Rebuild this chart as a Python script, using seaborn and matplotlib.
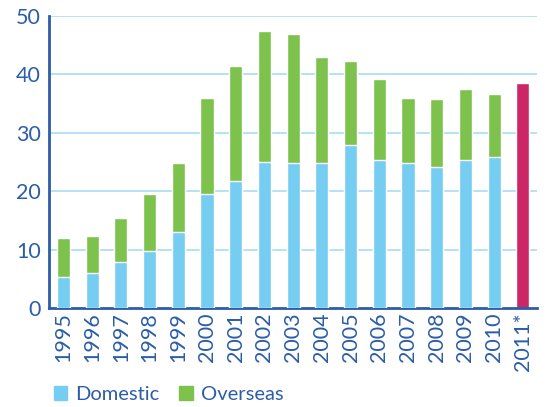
import matplotlib
matplotlib.use("Agg")
import matplotlib.pyplot as plt
from matplotlib.patches import Patch
import seaborn as sns
import pandas as pd

# data
years = ["1995", "1996", "1997", "1998", "1999", "2000", "2001", "2002", "2003",
         "2004", "2005", "2006", "2007", "2008", "2009", "2010", "2011*"]
domestic = [5.3, 6.0, 7.9, 9.7, 13.0, 19.6, 21.7, 25.0, 24.8,
            24.8, 27.9, 25.3, 24.8, 24.1, 25.3, 25.9, None]
total = [12.0, 12.3, 15.4, 19.5, 24.8, 36.0, 41.4, 47.4, 46.9,
         43.0, 42.3, 39.2, 36.0, 35.8, 37.5, 36.6, 38.5]

BLUE = "#75CDF2"
GREEN = "#7DC24D"
MAGENTA = "#CC2667"
TEXT = "#2B5DA8"
GRID = "#A9DDF2"

df = pd.DataFrame({"year": years, "domestic": domestic, "total": total})

sns.set_style("white")
plt.rcParams["font.family"] = ["Lato", "DejaVu Sans"]

fig = plt.figure(figsize=(5.51, 4.07), dpi=100)
ax = fig.add_axes([0.089, 0.243, 0.886, 0.718])

# total bars (overseas on top of domestic), last year in magenta
colors = [GREEN] * (len(years) - 1) + [MAGENTA]
sns.barplot(data=df, x="year", y="total", hue="year", palette=colors,
            width=0.46, legend=False, ax=ax, zorder=2, saturation=1)
sns.barplot(data=df, x="year", y="domestic", color=BLUE, width=0.46,
            ax=ax, zorder=3, saturation=1)

ax.set_xlim(-0.5, len(years) - 0.5)
ax.set_ylim(0, 50)
ax.set_yticks([0, 10, 20, 30, 40, 50])
for v in [10, 20, 30, 40, 50]:
    ax.axhline(v, color=GRID, lw=1.2, zorder=1)

ax.set_xlabel("")
ax.set_ylabel("")
ax.tick_params(axis="x", labelrotation=90, labelsize=15.5, colors=TEXT,
               length=0, pad=3)
ax.tick_params(axis="y", labelsize=15.5, colors=TEXT, length=4, width=1.5,
               direction="out", pad=2)
for lab in ax.get_xticklabels() + ax.get_yticklabels():
    lab.set_color(TEXT)

# tick marks between categories on the bottom spine
ax.set_xticks([i + 0.5 for i in range(-1, len(years))], minor=True)
ax.tick_params(axis="x", which="minor", length=5, width=1.2, color=TEXT)

for side in ["top", "right"]:
    ax.spines[side].set_visible(False)
for side in ["left", "bottom"]:
    ax.spines[side].set_color(TEXT)
    ax.spines[side].set_linewidth(2)

handles = [Patch(color=BLUE, label="Domestic"), Patch(color=GREEN, label="Overseas")]
fig.legend(handles=handles, loc="lower left", bbox_to_anchor=(0.065, -0.035),
           ncol=2, frameon=False, fontsize=14.5, labelcolor=TEXT,
           handlelength=0.65, handleheight=0.65, handletextpad=0.4,
           columnspacing=1.0)

fig.savefig("out.png", dpi=100)
